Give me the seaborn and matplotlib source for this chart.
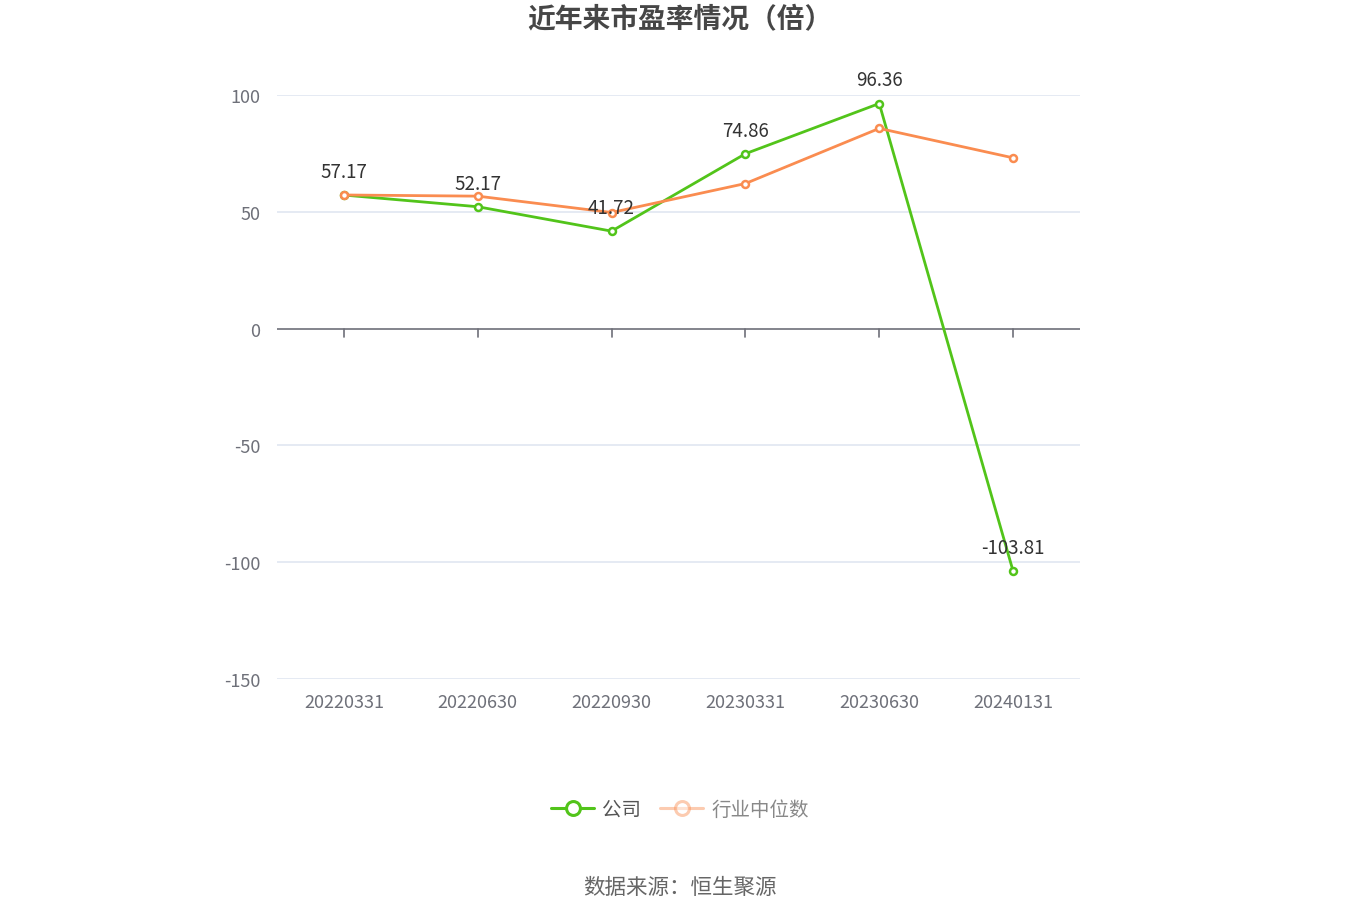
import matplotlib
matplotlib.use('Agg')
from matplotlib import pyplot as plt
from matplotlib.lines import Line2D
import seaborn as sns
import pandas as pd

dates = ['20220331', '20220630', '20220930', '20230331', '20230630', '20240131']
company = [57.17, 52.17, 41.72, 74.86, 96.36, -103.81]
industry = [57.2, 56.7, 49.7, 62.1, 85.7, 73.1]
yticks = [-150, -100, -50, 0, 50, 100]

green = '#52c41a'
orange = '#fa8c50'

sns.set_theme(style='white')
plt.rcParams['font.family'] = ['Noto Sans CJK SC', 'DejaVu Sans']

df = pd.DataFrame({'date': dates * 2,
                   'pe': company + industry,
                   'series': ['公司'] * 6 + ['行业中位数'] * 6})
df['x'] = list(range(6)) * 2

fig = plt.figure(figsize=(13.6, 9.2), dpi=100)
ax = fig.add_axes([277 / 1360, 240 / 920, 803 / 1360, 584 / 920])

for v in yticks:
    if v != 0:
        ax.axhline(v, color='#e0e6f1', lw=1.2, zorder=0)
ax.axhline(0, color='#6e7079', lw=1.2, zorder=1)

sns.lineplot(data=df, x='x', y='pe', hue='series', palette=[green, orange],
             hue_order=['公司', '行业中位数'], lw=2.0, legend=False, ax=ax,
             marker='o', markersize=5, markerfacecolor='white', markeredgewidth=1.8,
             zorder=3)
for line in ax.lines[-2:]:
    line.set_markeredgecolor(line.get_color())

for i, v in enumerate(company):
    ax.annotate(f'{v:.2f}', (i, v), xytext=(0, 17), textcoords='offset points',
                ha='center', va='center', fontsize=13.5, color='#333333', zorder=5)

ax.set_xlim(-0.5, 5.5)
ax.set_ylim(-150, 100)
ax.set_yticks(yticks)
ax.set_yticklabels([str(v) for v in yticks], color='#6e7079', fontsize=13)
ax.set_xticks(range(6))
ax.set_xticklabels(dates, color='#6e7079', fontsize=13)
# tick marks below the zero line
for i in range(6):
    ax.plot([i, i], [0, -3.5], color='#6e7079', lw=1.2, zorder=1, clip_on=False)
ax.tick_params(axis='y', length=0, pad=12)
ax.tick_params(axis='x', length=0, pad=10)
ax.set_xlabel('')
ax.set_ylabel('')
sns.despine(ax=ax, left=True, bottom=True)

fig.text(0.5, 1 - 20 / 920, '近年来市盈率情况（倍）', ha='center', va='center',
         fontsize=20, fontweight='bold', color='#464646')

handles = [Line2D([0], [0], color=green, lw=2.2, marker='o', markersize=10,
                  markerfacecolor='white', markeredgewidth=2.2),
           Line2D([0], [0], color=orange, lw=2.2, marker='o', markersize=10,
                  markerfacecolor='white', markeredgewidth=2.2, alpha=0.45)]
leg = fig.legend(handles, ['公司', '行业中位数'], loc='center', ncol=2,
                 bbox_to_anchor=(0.5, 1 - 810 / 920), frameon=False,
                 fontsize=14, handlelength=2.2, columnspacing=1.0, handletextpad=0.4)
leg.get_texts()[0].set_color('#555555')
leg.get_texts()[1].set_color('#888888')

fig.text(0.5, 1 - 888 / 920, '数据来源：恒生聚源', ha='center', va='center',
         fontsize=15.5, color='#666666')

fig.savefig('out.png', dpi=100)
